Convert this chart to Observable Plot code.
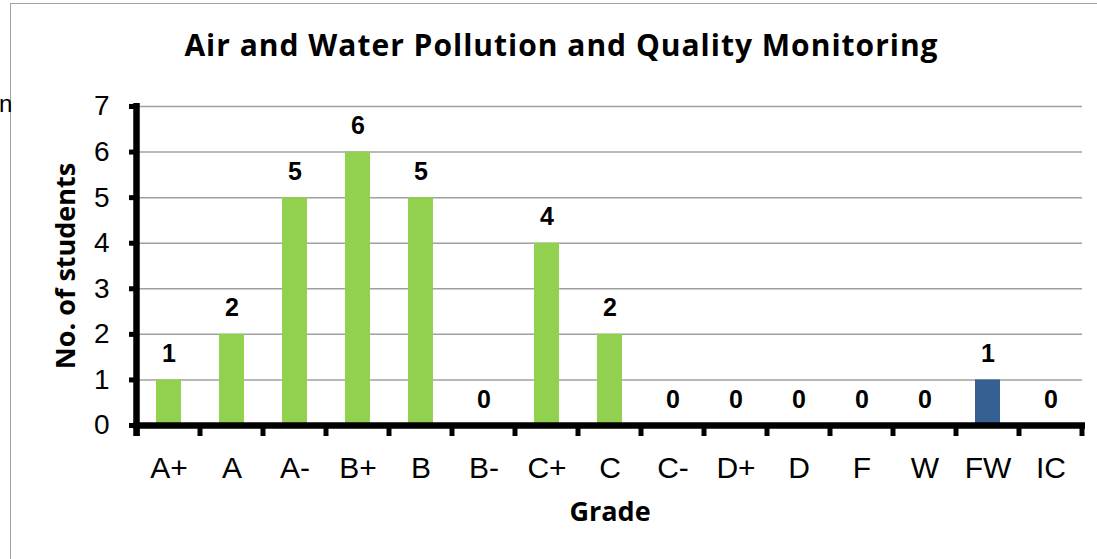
<!DOCTYPE html>
<html><head><meta charset="utf-8">
<script src="https://cdn.jsdelivr.net/npm/d3@7"></script>
<script src="https://cdn.jsdelivr.net/npm/@observablehq/plot@0.6"></script>
<style>
html,body{margin:0;padding:0;background:#fff;}
body{width:1097px;height:559px;overflow:hidden;position:relative;font-family:"Liberation Sans",Arial,sans-serif;}
#frame{position:absolute;left:10px;top:3px;width:2000px;height:2000px;border-left:1.5px solid #a3a3a3;border-top:1.5px solid #a3a3a3;}
#title{position:absolute;left:0;top:30px;width:1123px;text-align:center;font-family:"Open Sans",sans-serif;font-weight:bold;font-size:30px;line-height:30px;letter-spacing:1px;color:#000;white-space:nowrap;}
#cut{position:absolute;left:-1px;top:92px;font-size:24px;line-height:24px;color:#000;}
#chart{position:absolute;left:0;top:80px;}
</style></head>
<body>
<div id="frame"></div>
<div id="cut">n</div>
<div id="title">Air and Water Pollution and Quality Monitoring</div>
<div id="chart"></div>
<script>
const grades = ["A+","A","A-","B+","B","B-","C+","C","C-","D+","D","F","W","FW","IC"];
const counts = [1,2,5,6,5,0,4,2,0,0,0,0,0,1,0];
const yTicks = [0,1,2,3,4,5,6,7];
const gridValues = [1,2,3,4,5,6,7];
const highlightGrade = "FW";
const yLabel = "No. of students";
const xLabel = "Grade";

const data = grades.map((g,i)=>({grade:g, count:counts[i]}));
const GREEN = "#92d050", BLUE = "#366092";

// y-axis line + category boundary ticks, derived from the plot's layout
function decor(index, scales, values, dims) {
  const ns = "http://www.w3.org/2000/svg";
  const g = document.createElementNS(ns, "g");
  const left = dims.marginLeft, right = dims.width - dims.marginRight;
  const y0 = dims.height - dims.marginBottom, yTop = dims.marginTop;
  const step = (right - left) / grades.length;
  const line = (x1, y1, x2, y2, w) => {
    const l = document.createElementNS(ns, "line");
    l.setAttribute("x1", x1); l.setAttribute("y1", y1);
    l.setAttribute("x2", x2); l.setAttribute("y2", y2);
    l.setAttribute("stroke", "#000"); l.setAttribute("stroke-width", w);
    g.appendChild(l);
  };
  for (let i = 0; i <= grades.length; i++) {
    const bx = left + i * step;
    line(bx, y0, bx, y0 + 11, 5);
  }
  line(left - 0.5, yTop - 3, left - 0.5, y0 + 11, 6.5);
  return g;
}

const plot = Plot.plot({
  width: 1097,
  height: 479,
  marginLeft: 137,
  marginRight: 15,
  marginTop: 26,
  marginBottom: 134,
  style: {fontFamily: "'Liberation Sans', Arial, sans-serif", color: "#000", background: "transparent"},
  x: {domain: grades, paddingInner: 0.6, paddingOuter: 0.3, label: null},
  y: {domain: [0, 7], label: null},
  marks: [
    Plot.ruleY(gridValues, {stroke: "#a0a0a0", strokeWidth: 1.5}),
    Plot.barY(data, {x: "grade", y: "count", fill: d => d.grade === highlightGrade ? BLUE : GREEN}),
    Plot.ruleY([0], {stroke: "#000", strokeWidth: 6.5, insetLeft: -4, insetRight: -3}),
    decor,
    Plot.axisY({ticks: yTicks, tickFormat: "d", tickSize: 8, tickPadding: 20, stroke: "#000", strokeWidth: 5, fontSize: 28, fill: "#000", label: null}),
    Plot.axisX({tickSize: 0, tickPadding: 31, fontSize: 30, fill: "#000", label: null}),
    Plot.text(data, {x: "grade", y: "count", text: d => String(d.count), dy: -26, lineAnchor: "middle", fontSize: 25, fontWeight: "bold", fill: "#000"}),
    Plot.text([yLabel], {frameAnchor: "left", textAnchor: "middle", lineAnchor: "middle", dx: -71, rotate: -90, fontSize: 27, fontWeight: "bold", fontFamily: "'Open Sans', sans-serif", fill: "#000"}),
    Plot.text([xLabel], {frameAnchor: "bottom", textAnchor: "middle", dy: 87, lineAnchor: "middle", fontSize: 27, fontWeight: "bold", fontFamily: "'Open Sans', sans-serif", fill: "#000"})
  ]
});
document.getElementById("chart").appendChild(plot);
</script>
</body></html>
